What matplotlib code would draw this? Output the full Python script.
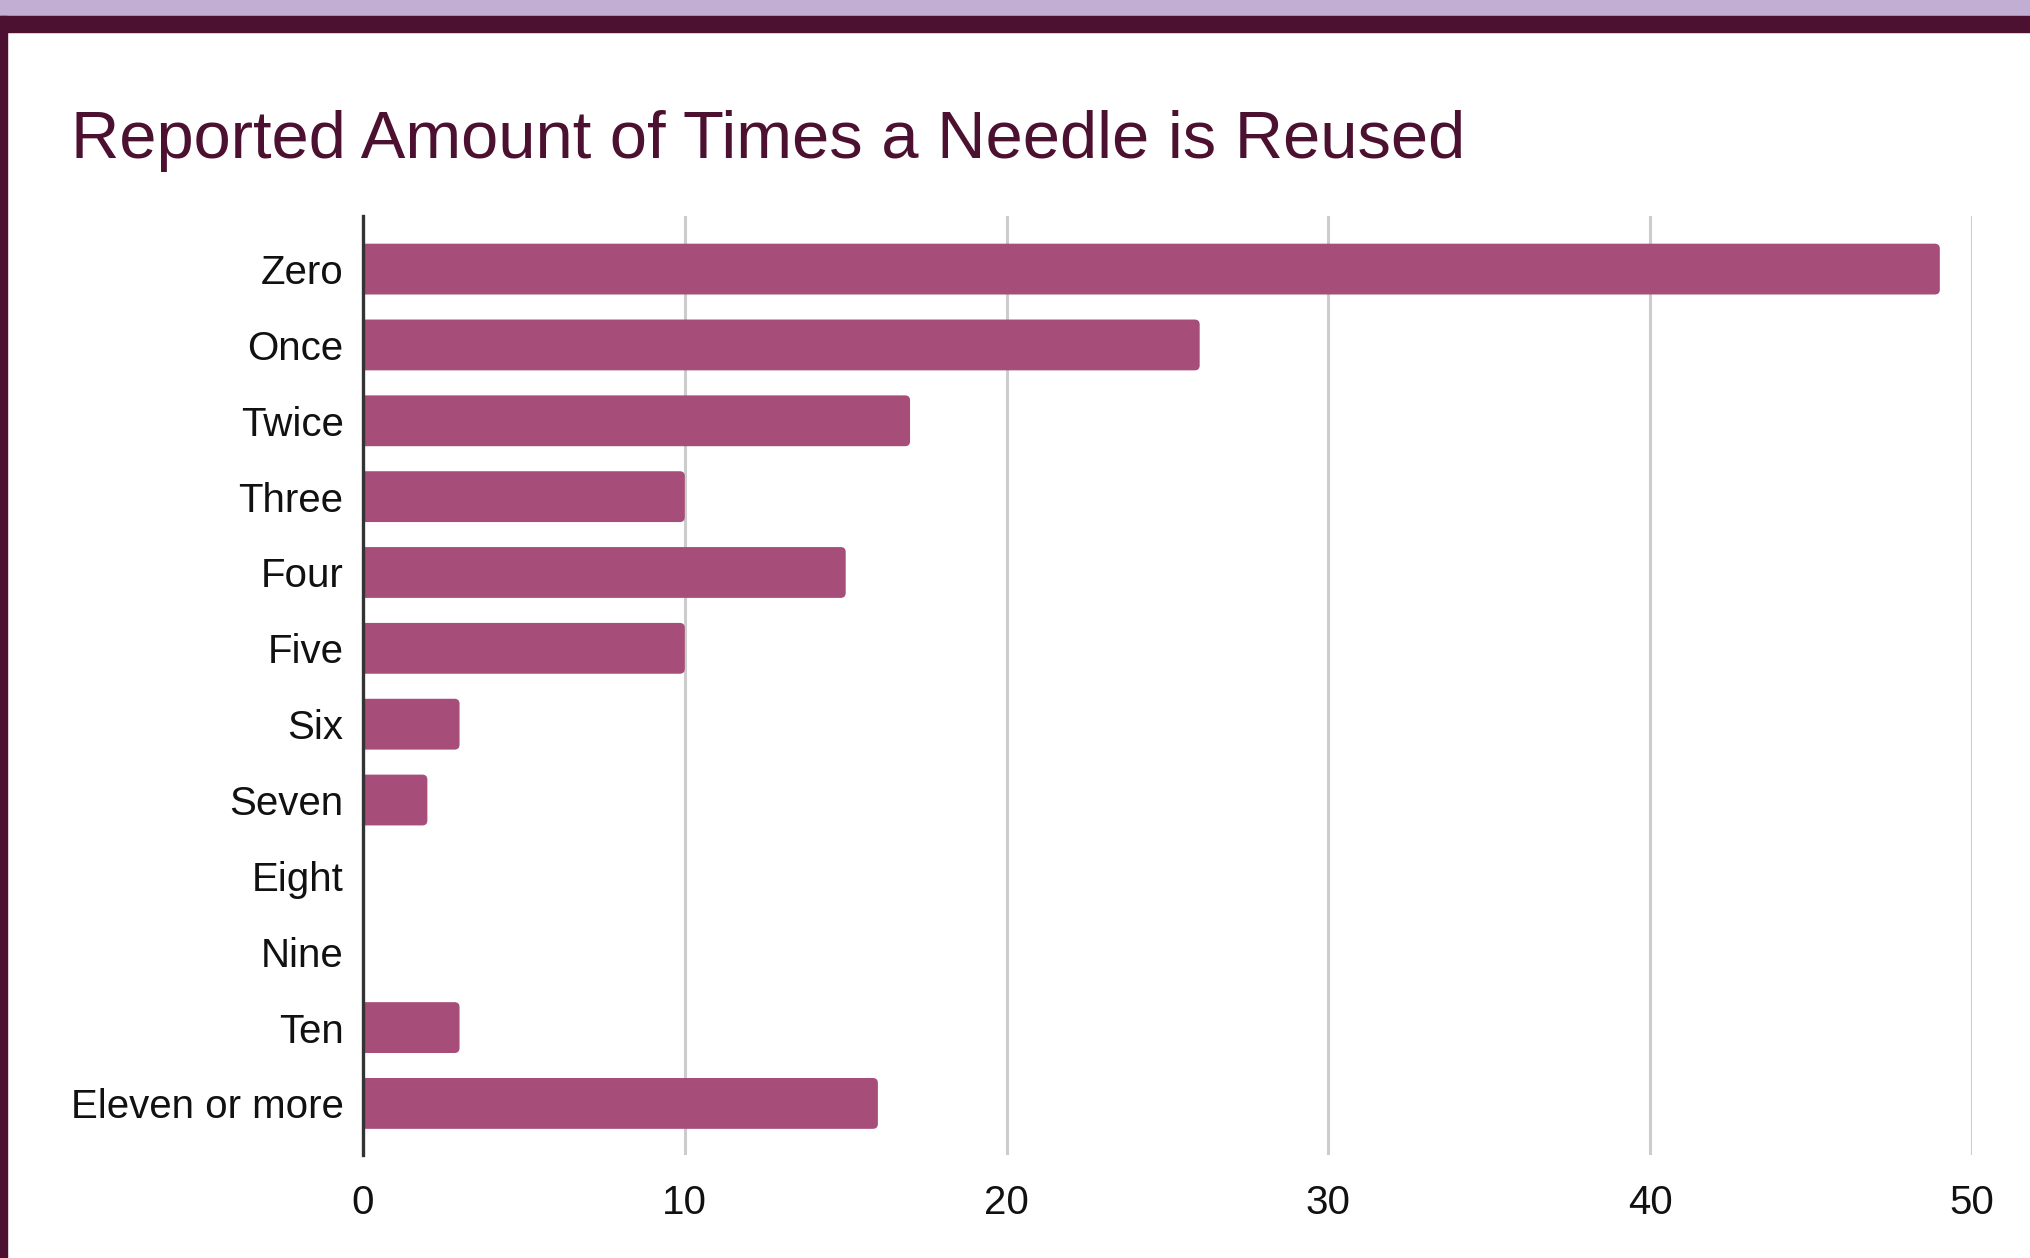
import matplotlib.pyplot as plt
from matplotlib.patches import Rectangle, FancyBboxPatch

categorias = ["Zero", "Once", "Twice", "Three", "Four", "Five", "Six",
              "Seven", "Eight", "Nine", "Ten", "Eleven or more"]
respostas = [49, 26, 17, 10, 15, 10, 3, 2, 0, 0, 3, 16]
ticks_x = [0, 10, 20, 30, 40, 50]

COR_BARRA = "#a64d79"
COR_TITULO = "#4c1130"
COR_FAIXA = "#c2aed2"

plt.rcParams["font.family"] = ["Liberation Sans", "DejaVu Sans"]

W, H = 2030, 1258
fig = plt.figure(figsize=(W / 100, H / 100), dpi=100)
fig.patch.set_facecolor("white")

# moldura: faixa lilás no topo, faixa escura e borda esquerda
fig.patches.append(Rectangle((0, 1 - 16 / H), 1, 16 / H, transform=fig.transFigure,
                             color=COR_FAIXA, zorder=0))
fig.patches.append(Rectangle((0, 1 - 32 / H), 1, 16 / H, transform=fig.transFigure,
                             color=COR_TITULO, zorder=0))
fig.patches.append(Rectangle((0, 0), 7 / W, 1 - 16 / H, transform=fig.transFigure,
                             color=COR_TITULO, zorder=0))

ax_px_w, ax_px_h = 1972 - 363, 939
ax = fig.add_axes([363 / W, 1 - 1155 / H, ax_px_w / W, ax_px_h / H])

xmax = 50
ylim = (11.68, -0.7)
altura = 0.67
# barras com a ponta direita arredondada; o canto esquerdo começa fora
# do eixo e é cortado pelo clip
aspecto = (ax_px_w / xmax) / (ax_px_h / abs(ylim[0] - ylim[1]))
raio = 5 / (ax_px_w / xmax)
for i, v in enumerate(respostas):
    if v <= 0:
        continue
    ax.add_patch(FancyBboxPatch((-1, i - altura / 2), v + 1, altura,
                                boxstyle=f"round,pad=0,rounding_size={raio}",
                                mutation_aspect=aspecto, fc=COR_BARRA, ec="none",
                                zorder=2))

ypos = list(range(len(categorias)))
ax.set_xlim(0, xmax)
ax.set_ylim(*ylim)
ax.set_xticks(ticks_x)
ax.set_xticklabels([str(t) for t in ticks_x])
ax.set_yticks(ypos)
ax.set_yticklabels(categorias)
ax.tick_params(axis="both", length=0, labelsize=29, colors="#111111")
ax.tick_params(axis="y", pad=14)
ax.tick_params(axis="x", pad=21)

for t in ticks_x[1:]:
    ax.axvline(t, color="#cccccc", lw=2.2, zorder=1)

for lado in ["top", "right", "bottom"]:
    ax.spines[lado].set_visible(False)
ax.spines["left"].set_color("#333333")
ax.spines["left"].set_linewidth(2.4)
ax.spines["left"].set_zorder(3)

fig.text(71 / W, 1 - 158 / H, "Reported Amount of Times a Needle is Reused",
         fontsize=48.2, color=COR_TITULO, ha="left", va="baseline")

fig.savefig("out.png", dpi=100)
